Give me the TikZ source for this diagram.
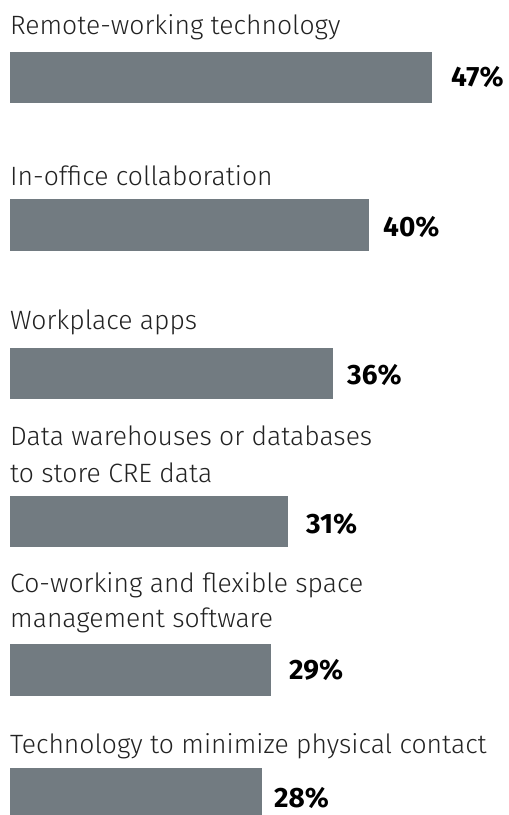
\documentclass[tikz,border=0pt]{standalone}
\usepackage{fontspec}
\setmainfont{Fira Sans}[UprightFont=* Light, BoldFont=* Bold]
\definecolor{barc}{RGB}{114,123,129}
\definecolor{txt}{RGB}{34,34,34}
\begin{document}
\begin{tikzpicture}[x=1pt,y=1pt,
  bar/.style={fill=barc,draw=none},
  lab/.style={anchor=base west,inner sep=0pt,text=txt,font=\fontsize{26.5}{36}\selectfont},
  pct/.style={anchor=base west,inner sep=0pt,text=black,font=\fontsize{28}{32}\selectfont\bfseries}]
\useasboundingbox (0,0) rectangle (509,815);
% y = 815 - pixel
\node[lab] (l1) at (10,780) {Remote-working technology};
\fill[bar] (10,763) rectangle (432,712) node (b1) {};
\node[pct] (p1) at (451,728) {47\%};

\node[lab] (l2) at (10,629) {In-office collaboration};
\fill[bar] (10,616) rectangle (369,564) node (b2) {};
\node[pct] (p2) at (383,578) {40\%};

\node[lab] (l3) at (10,485) {Workplace apps};
\fill[bar] (10,467) rectangle (333,416) node (b3) {};
\node[pct] (p3) at (347,430) {36\%};

\node[lab] (l4) at (10,369) {Data warehouses or databases};
\node[lab] (l4b) at (10,332) {to store CRE data};
\fill[bar] (10,319) rectangle (288,268) node (b4) {};
\node[pct] (p4) at (306,281) {31\%};

\node[lab] (l5) at (10,222) {Co-working and flexible space};
\node[lab] (l5b) at (10,187) {management software};
\fill[bar] (10,171) rectangle (271,119) node (b5) {};
\node[pct] (p5) at (289,135) {29\%};

\node[lab] (l6) at (10,61) {Technology to minimize physical contact};
\fill[bar] (10,47) rectangle (262,0) node (b6) {};
\node[pct] (p6) at (274,8) {28\%};
\end{tikzpicture}
\end{document}
